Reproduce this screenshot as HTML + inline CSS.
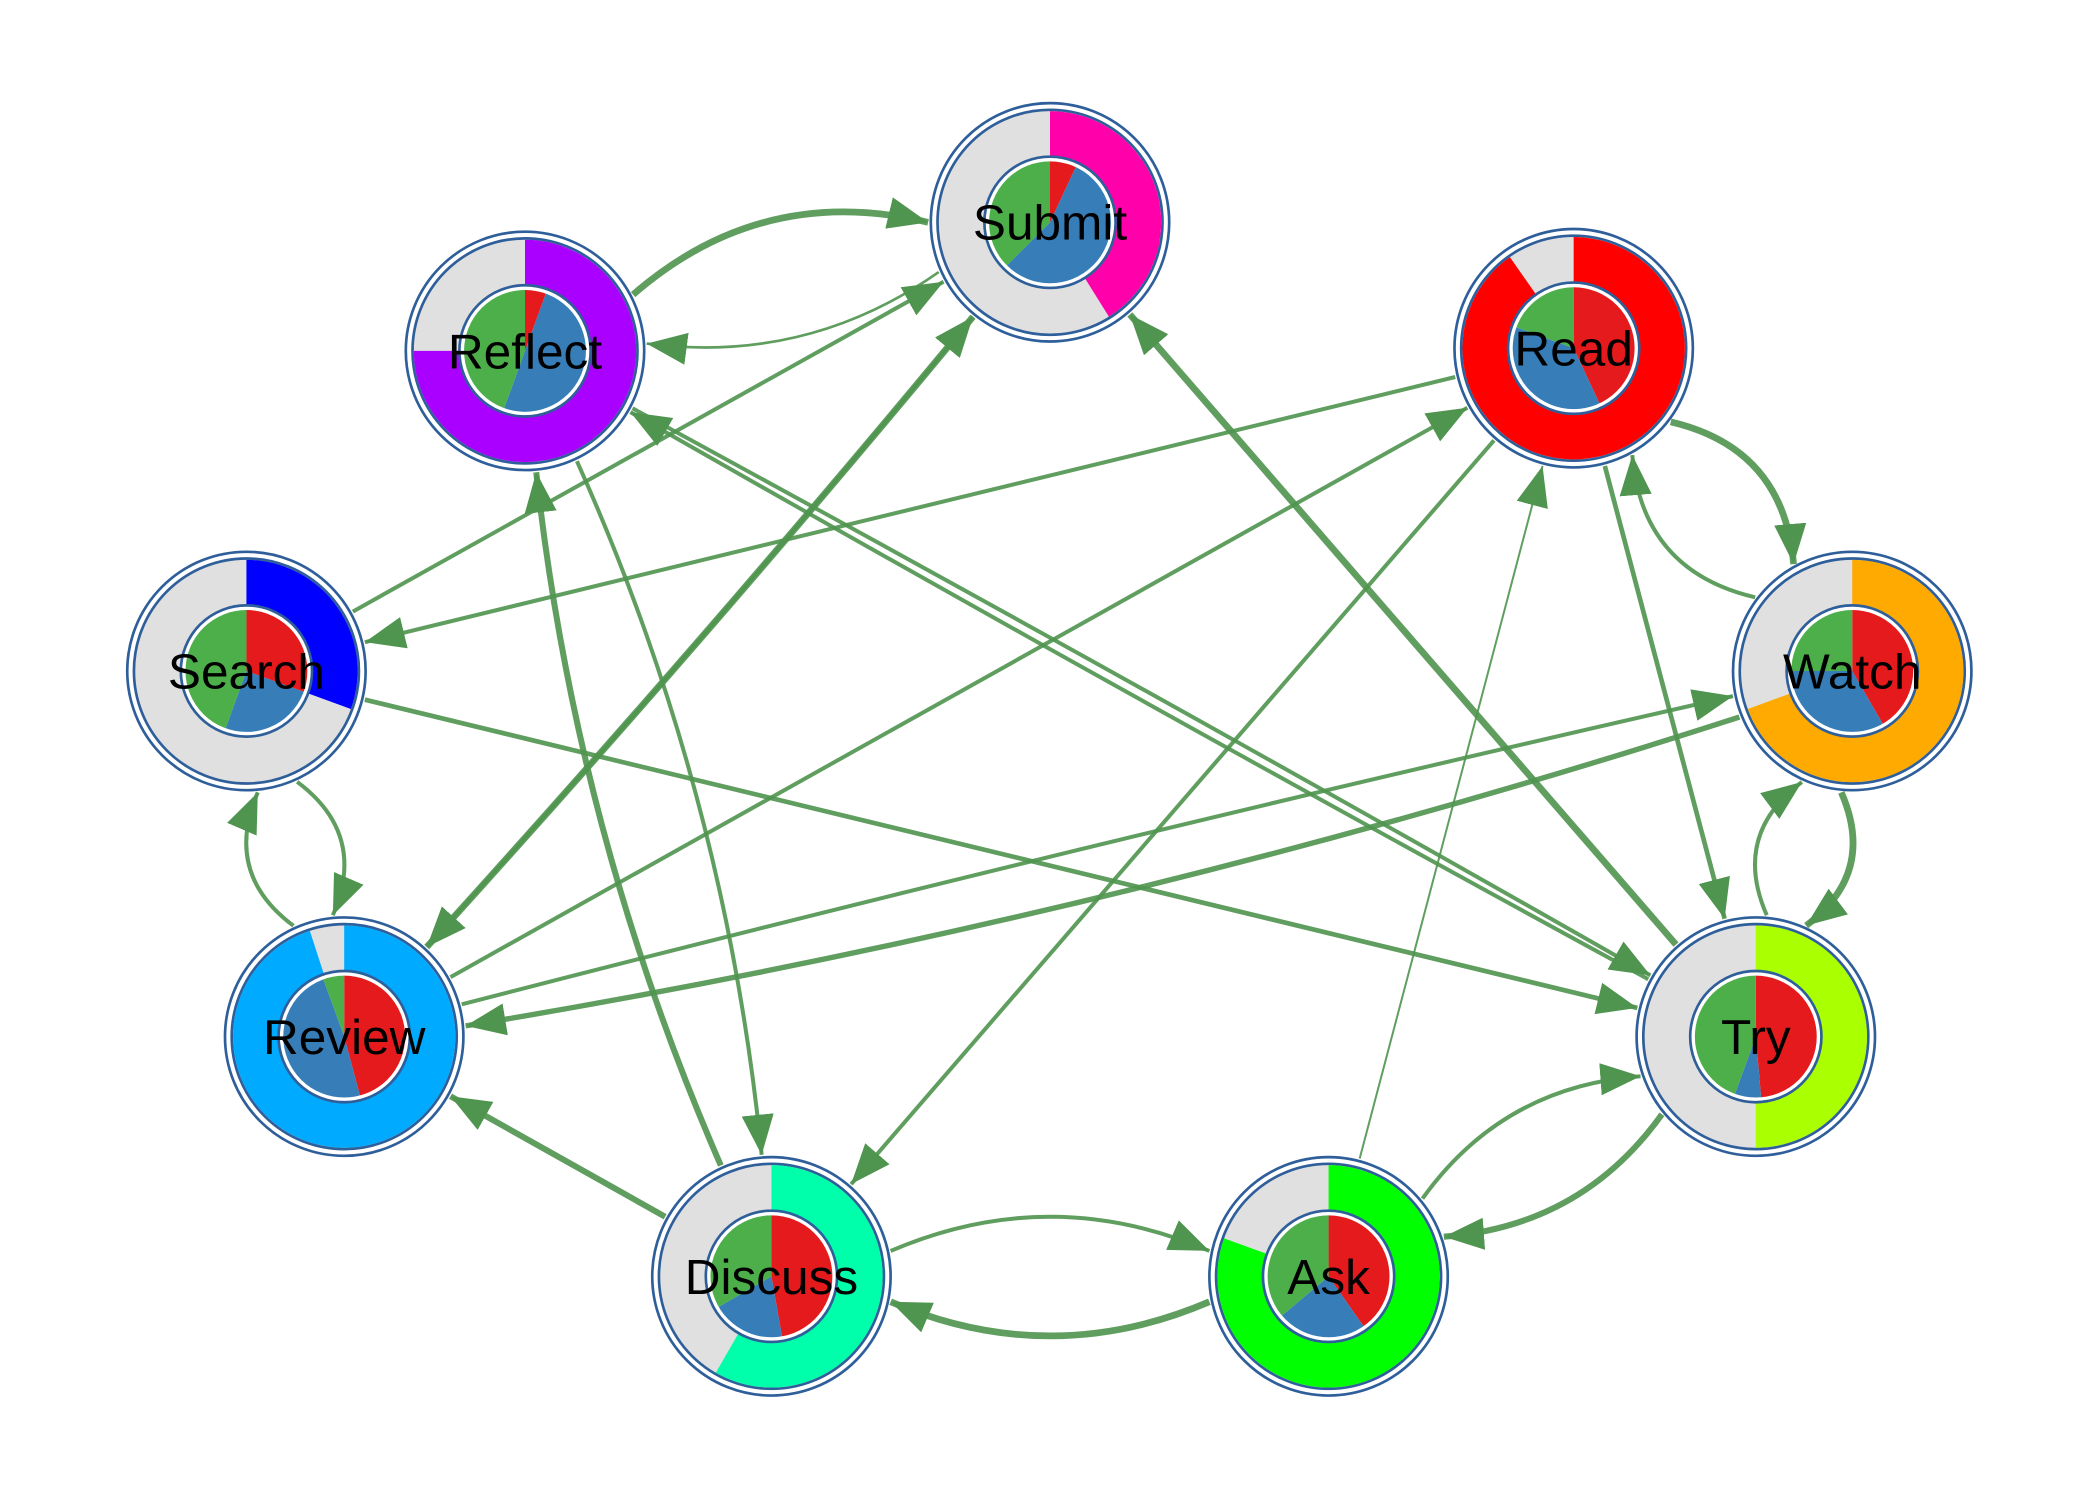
<!DOCTYPE html>
<html><head><meta charset="utf-8"><style>
html,body{margin:0;padding:0;background:#fff;}
svg{display:block;}
text{font-family:"Liberation Sans",Arial,sans-serif;font-size:37px;fill:#000;}
</style></head><body>
<svg id="s" width="2100" height="1500" viewBox="0 0 1568 1120" xmlns="http://www.w3.org/2000/svg">
<defs>
<marker id="ar" markerUnits="userSpaceOnUse" markerWidth="32" markerHeight="26" refX="30" refY="12" orient="auto">
<path d="M0,0 L30,12 L0,24 z" fill="#4f944f"/>
</marker>
</defs>
<g id="edges"></g>
<g id="nodes"></g>
<g text-anchor="middle">
<text x="784" y="179">Submit</text>
<text x="392" y="275">Reflect</text>
<text x="1175" y="273">Read</text>
<text x="184" y="514">Search</text>
<text x="1383" y="514">Watch</text>
<text x="257" y="787">Review</text>
<text x="1311" y="787">Try</text>
<text x="576" y="966">Discuss</text>
<text x="992" y="966">Ask</text>
</g>
</svg>
<script>
var N={Submit:[784,166],Reflect:[392,262],Read:[1175,260],Search:[184,501],Watch:[1383,501],Review:[257,774],Try:[1311,774],Discuss:[576,953],Ask:[992,953]};
var ring={Submit:['#ff00aa',148],Reflect:['#aa00ff',270],Read:['#ff0000',325],Search:['#0000ff',110],Watch:['#ffaa00',250],Review:['#00aaff',342],Try:['#aaff00',180],Discuss:['#00ffaa',210],Ask:['#00ff00',290]};
var pie={Submit:[25,225],Reflect:[20,200],Read:[155,290],Search:[110,200],Watch:[150,270],Review:[165,340],Try:[175,200],Discuss:[170,240],Ask:[145,230]};
var E=[
['Reflect','Submit',-40,5],['Submit','Reflect',-30,2],
['Search','Submit',0,3],['Review','Submit',5,3],['Submit','Review',-5,5],
['Try','Submit',0,5],['Reflect','Try',-3,3],['Try','Reflect',-3,3],
['Reflect','Discuss',-30,3],['Discuss','Reflect',-28,4.5],
['Read','Search',0,3],['Review','Read',0,3],['Read','Discuss',0,3],['Ask','Read',0,1.5],['Read','Try',0,3.5],
['Read','Watch',-35,5],['Watch','Read',-35,3],
['Search','Review',-28,3],['Review','Search',-28,3],
['Search','Try',0,3.5],['Watch','Review',-25,4],['Review','Watch',-5,3],
['Watch','Try',-28,5],['Try','Watch',-28,3],
['Discuss','Review',0,4.5],['Discuss','Ask',-35,3],['Ask','Discuss',-35,5],
['Ask','Try',-30,3],['Try','Ask',-30,4.5]
];
var ns='http://www.w3.org/2000/svg';
function el(t,a,p){var e=document.createElementNS(ns,t);for(var k in a)e.setAttribute(k,a[k]);p.appendChild(e);return e;}
var eg=document.getElementById('edges'),ng=document.getElementById('nodes');
E.forEach(function(e){var A=N[e[0]],B=N[e[1]];var dx=B[0]-A[0],dy=B[1]-A[1],L=Math.hypot(dx,dy);
var nx=-dy/L,ny=dx/L,ux=dx/L,uy=dy/L;
var mx=(A[0]+B[0])/2+nx*e[2]*2,my=(A[1]+B[1])/2+ny*e[2]*2;
var o=e[2]===0?0:(e[2]<0?-4:4);
var ang=e[2]*0.006;
function rot(x,y,a){return [x*Math.cos(a)-y*Math.sin(a),x*Math.sin(a)+y*Math.cos(a)];}
var d1=rot(ux,uy,ang*1),d2=rot(-ux,-uy,-ang*1);
var s=[A[0]+d1[0]*91,A[1]+d1[1]*91],t=[B[0]+d2[0]*91,B[1]+d2[1]*91];
el('path',{d:'M'+s[0]+','+s[1]+' Q'+mx+','+my+' '+t[0]+','+t[1],fill:'none',stroke:'#4f944f','stroke-opacity':0.9,'stroke-width':e[3],'marker-end':'url(#ar)'},eg);});
function pt(c,r,a){a=(a-90)*Math.PI/180;return [c[0]+r*Math.cos(a),c[1]+r*Math.sin(a)];}
function sector(c,r0,r1,a0,a1,fill,p){if(a1-a0>=359.9){a1=a0+359.9;}
var l=(a1-a0)>180?1:0,p1=pt(c,r1,a0),p2=pt(c,r1,a1),p3=pt(c,r0,a1),p4=pt(c,r0,a0);
var d=r0>0?('M'+p1+' A'+r1+','+r1+' 0 '+l+' 1 '+p2+' L'+p3+' A'+r0+','+r0+' 0 '+l+' 0 '+p4+'Z'):('M'+c+' L'+p1+' A'+r1+','+r1+' 0 '+l+' 1 '+p2+'Z');
el('path',{d:d,fill:fill},p);}
for(var k in N){var c=N[k];
el('circle',{cx:c[0],cy:c[1],r:89,fill:'#fff',stroke:'#2f5f9a','stroke-width':2},ng);
el('circle',{cx:c[0],cy:c[1],r:84,fill:'#e0e0e0',stroke:'#2f5f9a','stroke-width':2},ng);
sector(c,49,83,0,ring[k][1],ring[k][0],ng);
el('circle',{cx:c[0],cy:c[1],r:49,fill:'#fff',stroke:'#2f5f9a','stroke-width':2},ng);
var p=pie[k];
sector(c,0,46,0,p[0],'#e41a1c',ng);sector(c,0,46,p[0],p[1],'#377eb8',ng);sector(c,0,46,p[1],360,'#4daf4a',ng);
el('circle',{cx:c[0],cy:c[1],r:46,fill:'none',stroke:'#fff','stroke-width':1},ng);}
</script>
</body></html>
